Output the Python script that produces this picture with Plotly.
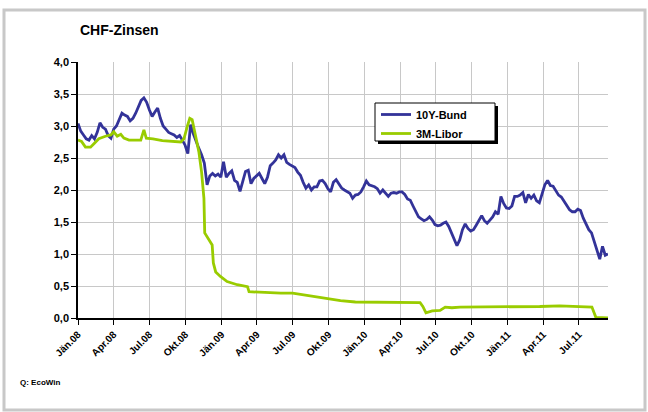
import pandas as pd
import plotly.graph_objects as go

# 10Y-Bund, weekly values from 2008-01-01
bund = [3.04, 2.92, 2.86, 2.80, 2.78, 2.85, 2.80, 2.90, 3.05, 2.98,
        2.95, 2.85, 2.81, 2.95, 3.00, 3.10, 3.20, 3.17, 3.15, 3.08,
        3.12, 3.20, 3.30, 3.40, 3.44, 3.37, 3.25, 3.15, 3.22, 3.28,
        3.12, 3.00, 2.95, 2.90, 2.88, 2.86, 2.82, 2.85, 2.78, 2.70,
        2.57, 3.02, 2.88, 2.75, 2.65, 2.55, 2.42, 2.08, 2.22, 2.26,
        2.22, 2.25, 2.20, 2.44, 2.20, 2.26, 2.30, 2.15, 2.12, 1.98,
        2.15, 2.29, 2.31, 2.10, 2.18, 2.22, 2.26, 2.18, 2.10, 2.20,
        2.38, 2.42, 2.47, 2.55, 2.50, 2.55, 2.43, 2.40, 2.38, 2.35,
        2.28, 2.23, 2.12, 2.03, 2.08, 2.00, 2.05, 2.05, 2.14, 2.15,
        2.10, 2.02, 1.97, 2.12, 2.16, 2.10, 2.03, 2.00, 1.97, 1.95,
        1.87, 1.92, 1.93, 1.97, 2.05, 2.14, 2.08, 2.07, 2.05, 2.02,
        1.95, 2.00, 1.95, 1.90, 1.95, 1.96, 1.95, 1.97, 1.97, 1.93,
        1.86, 1.84, 1.75, 1.66, 1.58, 1.55, 1.52, 1.54, 1.58, 1.53,
        1.46, 1.44, 1.45, 1.48, 1.50, 1.43, 1.32, 1.22, 1.13, 1.22,
        1.38, 1.47, 1.40, 1.36, 1.38, 1.45, 1.53, 1.60, 1.52, 1.48,
        1.53, 1.58, 1.66, 1.62, 1.90, 1.79, 1.72, 1.71, 1.75, 1.90,
        1.90, 1.92, 1.96, 1.80, 1.93, 1.87, 1.92, 1.83, 1.80, 1.93,
        2.08, 2.15, 2.07, 2.06, 1.99, 1.92, 1.89, 1.83, 1.77, 1.69,
        1.66, 1.66, 1.70, 1.68, 1.56, 1.48, 1.38, 1.33, 1.20, 1.05,
        0.92, 1.12, 0.98, 1.00]
bund_dates = pd.date_range("2008-01-01", periods=len(bund), freq="7D")

# 3M-Libor
libor_dates = ["2008-01-01", "2008-01-10", "2008-01-20", "2008-02-02", "2008-02-10",
               "2008-02-23", "2008-03-11", "2008-03-25", "2008-04-01", "2008-04-10",
               "2008-04-19", "2008-04-27", "2008-05-10", "2008-06-09", "2008-06-17",
               "2008-06-23", "2008-07-10", "2008-08-03", "2008-09-19", "2008-09-27",
               "2008-10-06", "2008-10-12", "2008-10-18", "2008-10-27", "2008-11-04",
               "2008-11-11", "2008-11-17", "2008-11-19", "2008-11-29", "2008-12-08",
               "2008-12-11", "2008-12-17", "2008-12-29", "2009-01-15", "2009-02-10",
               "2009-02-27", "2009-03-08", "2009-03-12", "2009-04-15", "2009-06-01",
               "2009-07-01", "2009-07-21", "2009-08-16", "2009-09-10", "2009-10-06",
               "2009-10-31", "2009-12-08", "2010-04-01", "2010-05-09", "2010-05-22",
               "2010-05-29", "2010-06-06", "2010-06-22", "2010-07-12", "2010-07-25",
               "2010-08-11", "2010-09-01", "2011-01-31", "2011-03-23", "2011-05-13",
               "2011-07-29", "2011-08-03", "2011-08-13", "2011-09-13"]
libor = [2.78, 2.76, 2.67, 2.67, 2.72,
         2.80, 2.84, 2.86, 2.91, 2.84,
         2.87, 2.81, 2.78, 2.78, 2.94,
         2.81, 2.80, 2.77, 2.75, 2.80,
         3.00, 3.12, 3.10, 2.85, 2.60,
         2.28, 1.87, 1.33, 1.22, 1.14,
         0.86, 0.72, 0.65, 0.57, 0.52,
         0.50, 0.49, 0.41, 0.40, 0.39,
         0.39, 0.37, 0.35, 0.32, 0.29,
         0.27, 0.25, 0.25, 0.25, 0.24,
         0.18, 0.08, 0.11, 0.12, 0.17,
         0.16, 0.17, 0.17, 0.18, 0.19,
         0.18, 0.17, 0.01, 0.00]

tick_dates = ["2008-01-01", "2008-04-01", "2008-07-01", "2008-10-01",
              "2009-01-01", "2009-04-01", "2009-07-01", "2009-10-01",
              "2010-01-01", "2010-04-01", "2010-07-01", "2010-10-01",
              "2011-01-01", "2011-04-01", "2011-07-01"]
tick_labels = ["Jän.08", "Apr.08", "Jul.08", "Okt.08", "Jän.09", "Apr.09", "Jul.09",
               "Okt.09", "Jän.10", "Apr.10", "Jul.10", "Okt.10", "Jän.11", "Apr.11",
               "Jul.11"]
y_ticks = [0, 0.5, 1.0, 1.5, 2.0, 2.5, 3.0, 3.5, 4.0]

FONT = "Liberation Sans, Arial, sans-serif"
PL, PR, PT, PB = 78, 608, 62, 318   # plot area in pixels
PW, PH = PR - PL, PB - PT


def px(x):
    return (x - PL) / PW


def py(y):
    return (PB - y) / PH


fig = go.Figure()
fig.add_trace(go.Scatter(x=bund_dates, y=bund, mode="lines", name="<b>10Y-Bund</b>",
                         line=dict(color="#333399", width=2.8)))
fig.add_trace(go.Scatter(x=libor_dates, y=libor, mode="lines", name="<b>3M-Libor</b>",
                         line=dict(color="#99cc00", width=2.8)))

fig.update_layout(
    width=648, height=412,
    margin=dict(l=PL, r=648 - PR, t=PT, b=412 - PB),
    paper_bgcolor="white", plot_bgcolor="white",
    font=dict(family=FONT, size=10, color="black"),
    showlegend=True,
    legend=dict(x=px(376), y=py(100), xanchor="left", yanchor="top",
                bgcolor="rgba(0,0,0,0)", borderwidth=0,
                font=dict(family=FONT, size=11, color="black"),
                itemwidth=30, tracegroupgap=0),
)
fig.update_xaxes(
    range=["2008-01-01", "2011-09-13"],
    tickmode="array", tickvals=tick_dates,
    ticktext=["<b>%s</b>" % t for t in tick_labels],
    tickangle=-45, tickfont=dict(size=10, family=FONT),
    showgrid=True, gridcolor="#c8c8c8", gridwidth=1,
    showline=True, linecolor="black", linewidth=1.5,
    ticks="outside", ticklen=5, tickcolor="black",
    zeroline=False,
)
fig.update_yaxes(
    range=[0, 4.0], tickmode="array", tickvals=y_ticks,
    ticktext=["<b>%s</b>" % ("%.1f" % v).replace(".", ",") for v in y_ticks],
    tickfont=dict(size=11, family=FONT),
    showgrid=True, gridcolor="#c8c8c8", gridwidth=1,
    showline=True, linecolor="black", linewidth=1.5,
    ticks="outside", ticklen=5, tickcolor="black",
    zeroline=False,
)

# outer frame
fig.add_shape(type="rect", xref="paper", yref="paper",
              x0=px(4), x1=px(645), y0=py(410), y1=py(10),
              line=dict(color="#c8c8c8", width=3), layer="below")
# legend box with shadow
fig.add_shape(type="rect", xref="paper", yref="paper",
              x0=px(378), x1=px(498), y0=py(144), y1=py(106),
              line=dict(color="black", width=0), fillcolor="black", layer="above")
fig.add_shape(type="rect", xref="paper", yref="paper",
              x0=px(375), x1=px(495), y0=py(141), y1=py(103),
              line=dict(color="black", width=1), fillcolor="white", layer="above")

fig.add_annotation(text="<b>CHF-Zinsen</b>", xref="paper", yref="paper",
                   x=px(78), y=py(30), xanchor="left", yanchor="middle",
                   showarrow=False, font=dict(family=FONT, size=14, color="black"))
fig.add_annotation(text="<b>Q: EcoWin</b>", xref="paper", yref="paper",
                   x=px(18), y=py(382), xanchor="left", yanchor="middle",
                   showarrow=False, font=dict(family=FONT, size=8, color="black"))

fig.write_html("out.html", config={"displayModeBar": False},
               post_script="document.body.style.margin='0';")
